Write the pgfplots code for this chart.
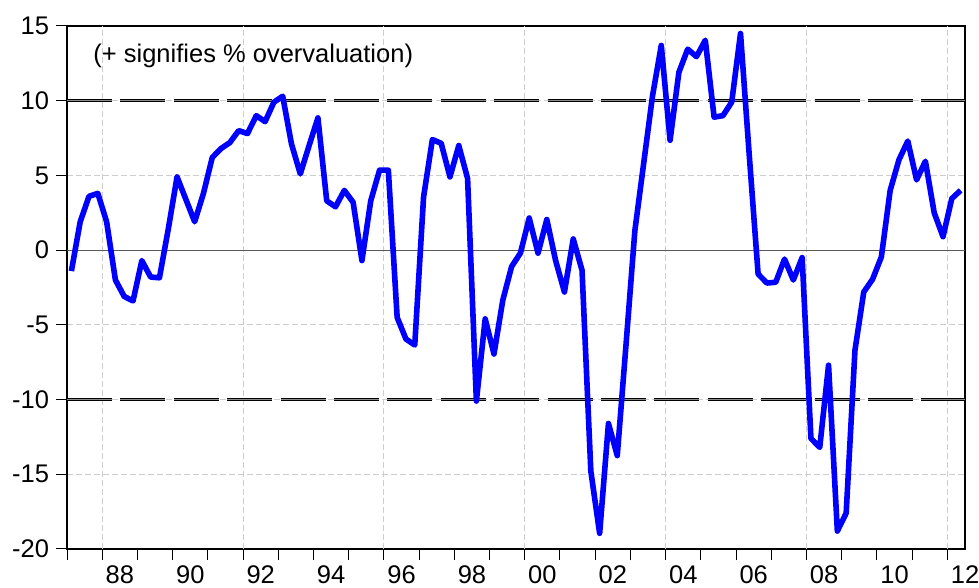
\documentclass[border=0pt]{standalone}
\usepackage{pgfplots}
\pgfplotsset{compat=1.18}
\usepackage{fontspec}
\setmainfont{Liberation Sans}
\definecolor{gridc}{RGB}{205,205,205}
\pgfplotstableread{
x y
1987.125 -1.4
1987.375 1.9
1987.625 3.6
1987.875 3.8
1988.125 1.9
1988.375 -2.0
1988.625 -3.1
1988.875 -3.4
1989.125 -0.7
1989.375 -1.8
1989.625 -1.85
1989.875 1.4
1990.125 4.9
1990.375 3.4
1990.625 1.9
1990.875 3.8
1991.125 6.2
1991.375 6.8
1991.625 7.2
1991.875 8.0
1992.125 7.8
1992.375 9.0
1992.625 8.6
1992.875 9.9
1993.125 10.3
1993.375 7.1
1993.625 5.1
1993.875 7.0
1994.125 8.85
1994.375 3.3
1994.625 2.9
1994.875 4.0
1995.125 3.2
1995.375 -0.7
1995.625 3.3
1995.875 5.35
1996.125 5.35
1996.375 -4.5
1996.625 -5.95
1996.875 -6.35
1997.125 3.55
1997.375 7.4
1997.625 7.15
1997.875 4.9
1998.125 7.0
1998.375 4.8
1998.625 -10.1
1998.875 -4.6
1999.125 -6.95
1999.375 -3.35
1999.625 -1.1
1999.875 -0.2
2000.125 2.15
2000.375 -0.2
2000.625 2.05
2000.875 -0.7
2001.125 -2.8
2001.375 0.75
2001.625 -1.35
2001.875 -14.8
2002.125 -18.95
2002.375 -11.6
2002.625 -13.75
2002.875 -6.3
2003.125 1.3
2003.375 5.8
2003.625 10.3
2003.875 13.7
2004.125 7.35
2004.375 11.9
2004.625 13.45
2004.875 12.95
2005.125 14.05
2005.375 8.9
2005.625 9.0
2005.875 9.9
2006.125 14.5
2006.375 6.3
2006.625 -1.6
2006.875 -2.2
2007.125 -2.15
2007.375 -0.6
2007.625 -2.0
2007.875 -0.5
2008.125 -12.6
2008.375 -13.2
2008.625 -7.7
2008.875 -18.8
2009.125 -17.6
2009.375 -6.7
2009.625 -2.8
2009.875 -1.95
2010.125 -0.45
2010.375 4.0
2010.625 6.05
2010.875 7.3
2011.125 4.7
2011.375 5.95
2011.625 2.5
2011.875 0.9
2012.125 3.45
2012.375 4.0
}\series
\begin{document}
\begin{tikzpicture}
\useasboundingbox (-33.5pt,-19.5pt) rectangle (456pt,274.5pt);
\begin{axis}[
  at={(0pt,0pt)}, anchor=south west,
  scale only axis, width=449pt, height=261.5pt,
  xmin=1987, xmax=2012.5, ymin=-20, ymax=15,
  axis line style={line width=0.75pt},
  tick style={black, line width=0.5pt},
  tick align=outside,
  xtick pos=bottom, ytick pos=left,
  xtick={1987,...,2012},
  xticklabels={},
  minor x tick num=3,
  major tick length=5.5pt,
  minor tick length=3pt,
  extra x ticks={1988.5,1990.5,...,2012.5},
  extra x tick labels={88,90,92,94,96,98,00,02,04,06,08,10,12},
  extra x tick style={major tick length=0pt, grid=none},
  ytick={-20,-15,...,15},
  ymajorgrids,
  major grid style={gridc, dash pattern=on 3pt off 1.5pt, line width=0.5pt},
  every tick label/.append style={font=\fontsize{12.75}{15}\selectfont},
  xticklabel style={yshift=-5pt},
  /pgf/number format/assume math mode=true,
]
\pgfplotsinvokeforeach{1988,1992,...,2012}{
  \draw[gridc, dash pattern=on 3pt off 1.5pt, line width=0.5pt] (axis cs:#1,-20) -- (axis cs:#1,15);
}
\addplot[draw=black!65, line width=0.5pt] coordinates {(1987,0) (2012.5,0)};
\addplot[black, line width=1.4pt, dash pattern=on 22.5pt off 4.2pt] coordinates {(1987,10) (2012.5,10)};
\addplot[black!45, line width=0.35pt, dash pattern=on 22.5pt off 4.2pt] coordinates {(1987,10) (2012.5,10)};
\addplot[black, line width=1.4pt, dash pattern=on 22.5pt off 4.2pt] coordinates {(1987,-10) (2012.5,-10)};
\addplot[black!45, line width=0.35pt, dash pattern=on 22.5pt off 4.2pt] coordinates {(1987,-10) (2012.5,-10)};
\addplot[blue, line width=2.8pt, line join=round] table[x=x, y=y] {\series};
\node[anchor=base west, font=\fontsize{12.75}{15}\selectfont, inner sep=0pt] at (axis cs:1987.74,12.55) {(+ signifies \% overvaluation)};
\end{axis}
\end{tikzpicture}
\end{document}
